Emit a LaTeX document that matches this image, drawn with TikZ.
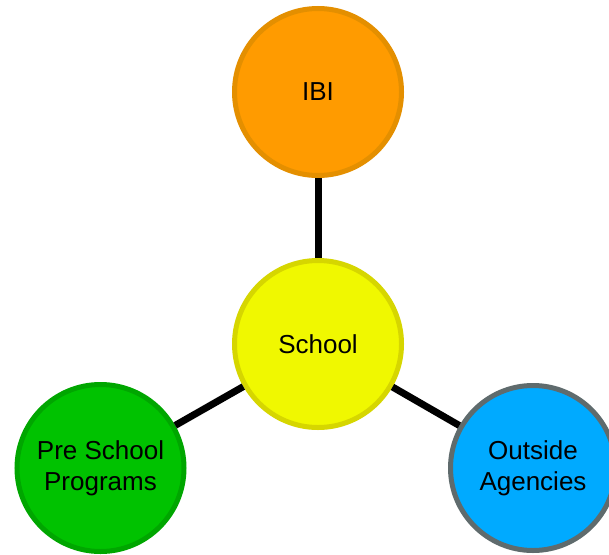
\documentclass[tikz,border=0pt]{standalone}
\usepackage{fontspec}
\setmainfont{Liberation Sans}
\definecolor{ibifill}{RGB}{255,155,0}
\definecolor{ibiline}{RGB}{228,143,0}
\definecolor{schoolfill}{RGB}{240,248,0}
\definecolor{schoolline}{RGB}{214,214,0}
\definecolor{prefill}{RGB}{0,194,0}
\definecolor{preline}{RGB}{0,166,0}
\definecolor{outfill}{RGB}{0,170,255}
\definecolor{outline}{RGB}{95,107,109}
\begin{document}
\begin{tikzpicture}[x=1pt,y=-1pt]
\tikzset{bubble/.style={circle,draw,line width=5pt,minimum size=167pt,inner sep=0pt,
    align=center,font=\fontsize{26}{31}\selectfont},
  link/.style={line width=7pt}}
\useasboundingbox (0,0) rectangle (609,554);
\node[bubble,fill=ibifill,draw=ibiline] (ibi) at (318,92) {IBI};
\node[bubble,fill=schoolfill,draw=schoolline] (school) at (318,344) {School};
\node[bubble,fill=prefill,draw=preline] (pre) at (100.5,468) {Pre School\\Programs};
\node[bubble,fill=outfill,draw=outline,minimum size=165pt] (out) at (533,468) {Outside\\Agencies};
\draw[link] (ibi) -- (school);
\draw[link] (school) -- (pre);
\draw[link] (school) -- (out);
\end{tikzpicture}
\end{document}
